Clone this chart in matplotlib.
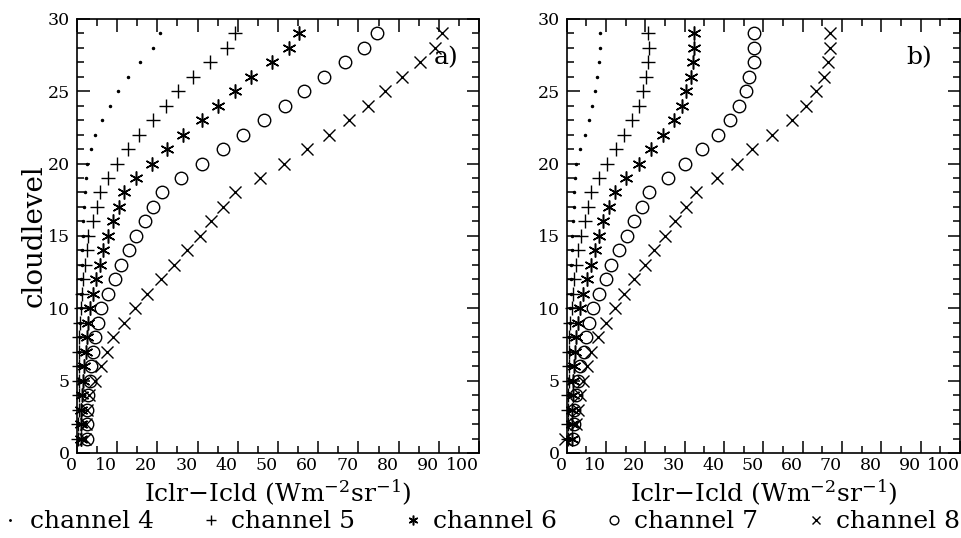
import numpy as np
import matplotlib
matplotlib.use("Agg")
import matplotlib.pyplot as plt
from matplotlib.ticker import MultipleLocator

plt.rcParams["font.family"] = ["DejaVu Serif"]
plt.rcParams["mathtext.fontset"] = "dejavuserif"

# cloud levels 1..29
levels = list(range(1, 30))

# Iclr - Icld per channel, panel a)
a_ch4 = [0.3, 0.3, 0.4, 0.4, 0.5, 0.5, 0.6, 0.7, 0.8, 0.9, 1.0, 1.1, 1.2, 1.3, 1.4,
         1.6, 1.8, 2.0, 2.2, 2.4, 3.4, 4.6, 6.3, 8.2, 10.3, 12.8, 15.7, 19.0, 20.6]
a_ch5 = [0.3, 0.3, 0.4, 0.4, 0.5, 0.5, 0.6, 0.6, 0.7, 0.9, 1.2, 1.4, 2.0, 2.4, 2.8,
         4.1, 5.1, 5.7, 7.6, 9.9, 12.6, 15.5, 18.8, 22.1, 25.2, 28.9, 33.2, 37.2, 39.3]
a_ch6 = [0.9, 1.0, 1.1, 1.2, 1.4, 1.7, 2.2, 2.4, 2.8, 3.2, 4.1, 4.7, 5.7, 6.5, 7.8,
         8.9, 10.4, 11.7, 14.8, 18.6, 22.5, 26.4, 31.0, 35.1, 39.3, 43.4, 48.4, 52.8, 55.3]
a_ch7 = [2.4, 2.5, 2.6, 2.8, 3.2, 3.4, 4.1, 4.5, 5.3, 6.1, 7.8, 9.5, 10.9, 12.9, 14.8,
         16.9, 19.0, 21.2, 25.8, 31.0, 36.2, 41.3, 46.6, 51.7, 56.5, 61.4, 66.7, 71.5, 74.5]
a_ch8 = [2.0, 2.2, 2.4, 3.1, 4.5, 5.9, 7.4, 9.0, 11.7, 14.4, 17.5, 20.8, 24.1, 27.3, 30.6,
         33.3, 36.4, 39.3, 45.5, 51.6, 57.1, 62.8, 67.7, 72.5, 76.6, 80.8, 85.3, 89.1, 90.7]

# panel b)
b_ch4 = [0.3, 0.3, 0.4, 0.4, 0.5, 0.5, 0.6, 0.7, 0.8, 0.9, 1.0, 1.1, 1.2, 1.3, 1.4,
         1.6, 1.8, 2.0, 2.2, 2.5, 3.5, 4.6, 5.7, 6.5, 7.3, 7.7, 8.2, 8.4, 8.4]
b_ch5 = [0.3, 0.3, 0.4, 0.4, 0.5, 0.5, 0.6, 0.7, 0.9, 1.3, 1.7, 2.0, 2.5, 2.9, 3.7,
         4.6, 5.4, 6.3, 8.2, 10.3, 12.6, 14.7, 16.7, 18.3, 19.4, 20.2, 20.6, 20.9, 20.6]
b_ch6 = [1.3, 1.3, 1.3, 1.5, 1.7, 2.0, 2.2, 2.5, 2.9, 3.5, 4.1, 5.1, 6.1, 7.1, 8.2,
         9.2, 10.7, 12.2, 15.1, 18.3, 21.5, 24.6, 27.2, 29.3, 30.3, 31.6, 32.0, 32.5, 32.5]
b_ch7 = [1.7, 1.8, 2.0, 2.5, 2.9, 3.5, 4.3, 4.8, 5.7, 6.7, 8.2, 9.9, 11.3, 13.3, 15.4,
         17.2, 19.2, 21.0, 25.7, 30.1, 34.4, 38.4, 41.5, 43.9, 45.6, 46.4, 47.5, 47.7, 47.7]
b_ch8 = [-0.5, 2.5, 2.9, 3.5, 4.1, 5.1, 6.3, 7.9, 10.1, 12.2, 14.7, 17.2, 19.8, 22.3, 25.1,
         27.6, 30.3, 32.9, 38.1, 43.3, 47.2, 52.2, 57.2, 60.8, 63.5, 65.5, 66.5, 67.0, 67.0]

channel_names = ["channel 4", "channel 5", "channel 6", "channel 7", "channel 8"]
styles = [
    dict(marker=".", ms=3, mfc="black", mec="black"),
    dict(marker="+", ms=10, mew=1.0, mec="black"),
    dict(marker=(6, 2, 0), ms=10, mew=1.1, mec="black"),
    dict(marker="o", ms=9, mew=1.0, mfc="none", mec="black"),
    dict(marker="x", ms=9, mew=1.0, mec="black"),
]

fig = plt.figure(figsize=(9.62, 5.38), dpi=100)
ax_a = fig.add_axes([0.080, 0.158, 0.418, 0.807])
ax_b = fig.add_axes([0.589, 0.158, 0.409, 0.807])

panels = [
    (ax_a, [a_ch4, a_ch5, a_ch6, a_ch7, a_ch8], "a)", 0.948),
    (ax_b, [b_ch4, b_ch5, b_ch6, b_ch7, b_ch8], "b)", 0.929),
]

for ax, series, tag, tag_x in panels:
    for vals, name, st in zip(series, channel_names, styles):
        ax.plot(vals, levels, linestyle="none", color="black",
                label=name, clip_on=False, **st)
    ax.set_xlim(0, 100)
    ax.set_ylim(0, 30)
    ax.xaxis.set_major_locator(MultipleLocator(10))
    ax.xaxis.set_minor_locator(MultipleLocator(5))
    ax.yaxis.set_major_locator(MultipleLocator(5))
    ax.yaxis.set_minor_locator(MultipleLocator(1))
    ax.tick_params(which="both", direction="in", top=True, right=True,
                   width=1.1, labelsize=12.5, colors="black")
    ax.tick_params(which="major", length=9)
    ax.tick_params(which="minor", length=5)
    ax.tick_params(axis="x", pad=3)
    ax.tick_params(axis="y", pad=5)
    for lbl in ax.get_xticklabels():
        lbl.set_horizontalalignment("right")
    for sp in ax.spines.values():
        sp.set_linewidth(1.2)
    ax.set_xlabel("Iclr$-$Icld (Wm$^{-2}$sr$^{-1}$)", fontsize=18, labelpad=3)
    ax.text(tag_x, 0.91, tag, transform=ax.transAxes, fontsize=18,
            ha="right", va="center")

ax_a.set_ylabel("cloudlevel", fontsize=20, labelpad=0)

leg_handles = []
for st in styles:
    small = dict(st)
    small["ms"] = st["ms"] * 0.7
    leg_handles.append(plt.Line2D([], [], linestyle="none", color="black", **small))

fig.legend(leg_handles, channel_names, loc="center", bbox_to_anchor=(0.5, 0.03),
           ncol=5, frameon=False, fontsize=18, handlelength=0.6,
           handletextpad=0.5, columnspacing=2.0, borderpad=0.0)

fig.savefig("out.png", dpi=100)
